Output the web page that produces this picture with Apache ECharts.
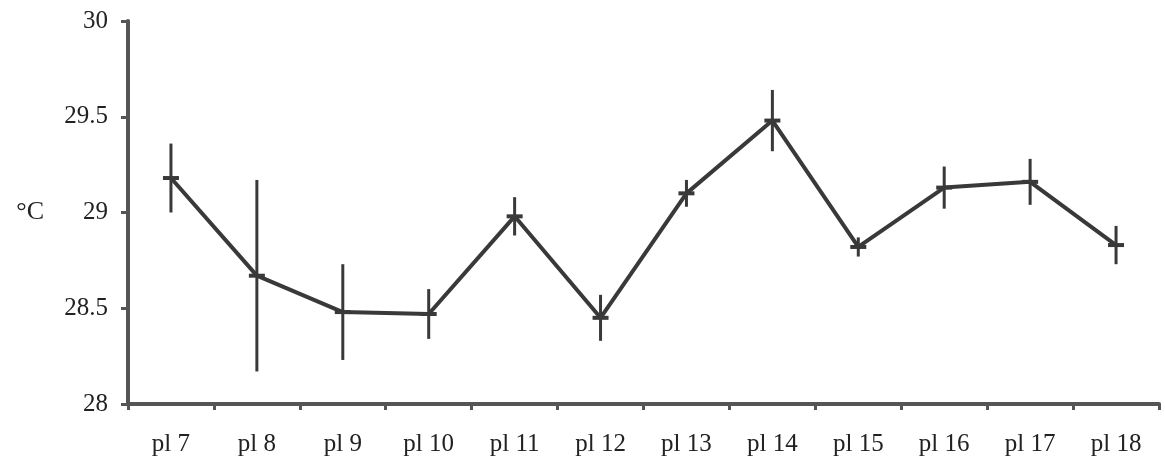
<!DOCTYPE html>
<html>
<head>
<meta charset="utf-8">
<script src="https://cdn.jsdelivr.net/npm/echarts@6/dist/echarts.min.js"></script>
<style>
  html, body { margin: 0; padding: 0; background: #fff; }
  #chart { width: 1165px; height: 463px; }
</style>
</head>
<body>
<div id="chart"></div>
<script>
// data
const categories = ['pl 7', 'pl 8', 'pl 9', 'pl 10', 'pl 11', 'pl 12', 'pl 13', 'pl 14', 'pl 15', 'pl 16', 'pl 17', 'pl 18']
const means = [29.18, 28.67, 28.48, 28.47, 28.98, 28.45, 29.10, 29.48, 28.82, 29.13, 29.16, 28.83]
const errors = [0.18, 0.50, 0.25, 0.13, 0.10, 0.12, 0.07, 0.16, 0.05, 0.11, 0.12, 0.10]
const yTicks = [28, 28.5, 29, 29.5, 30]

const ink = '#393939'
const font = '"Liberation Serif", "DejaVu Serif", serif'

const chart = echarts.init(document.getElementById('chart'))

const errData = categories.map((c, i) => [i, means[i] - errors[i], means[i] + errors[i], means[i]])

const option = {
  backgroundColor: '#fff',
  animation: false,
  grid: { left: 128, right: 6, top: 21, bottom: 59 },
  xAxis: {
    type: 'category',
    data: categories,
    boundaryGap: true,
    axisLine: { lineStyle: { color: '#555', width: 4 } },
    axisTick: { show: true, length: 6, lineStyle: { color: '#555', width: 3 } },
    axisLabel: { color: '#222', fontFamily: font, fontSize: 25, margin: 28 },
    splitLine: { show: false }
  },
  yAxis: {
    type: 'value',
    min: yTicks[0],
    max: yTicks[yTicks.length - 1],
    interval: 0.5,
    name: '°C',
    nameLocation: 'middle',
    nameRotate: 0,
    nameGap: 84,
    nameTextStyle: { color: '#222', fontFamily: font, fontSize: 26 },
    axisLine: { show: true, lineStyle: { color: '#555', width: 4 } },
    axisTick: { show: true, length: 7, lineStyle: { color: '#555', width: 3 } },
    axisLabel: { color: '#222', fontFamily: font, fontSize: 25, margin: 20 },
    splitLine: { show: false }
  },
  series: [
    {
      type: 'line',
      data: means,
      symbol: 'none',
      lineStyle: { color: ink, width: 4 },
      z: 3
    },
    {
      type: 'custom',
      data: errData,
      z: 4,
      renderItem: function (params, api) {
        const x = api.value(0)
        const lo = api.coord([x, api.value(1)])
        const hi = api.coord([x, api.value(2)])
        const mid = api.coord([x, api.value(3)])
        return {
          type: 'group',
          children: [
            {
              type: 'line',
              shape: { x1: lo[0], y1: lo[1], x2: hi[0], y2: hi[1] },
              style: { stroke: ink, lineWidth: 3 }
            },
            {
              type: 'line',
              shape: { x1: mid[0] - 8, y1: mid[1], x2: mid[0] + 8, y2: mid[1] },
              style: { stroke: ink, lineWidth: 4 }
            }
          ]
        }
      }
    }
  ]
}

chart.setOption(option)
</script>
</body>
</html>
